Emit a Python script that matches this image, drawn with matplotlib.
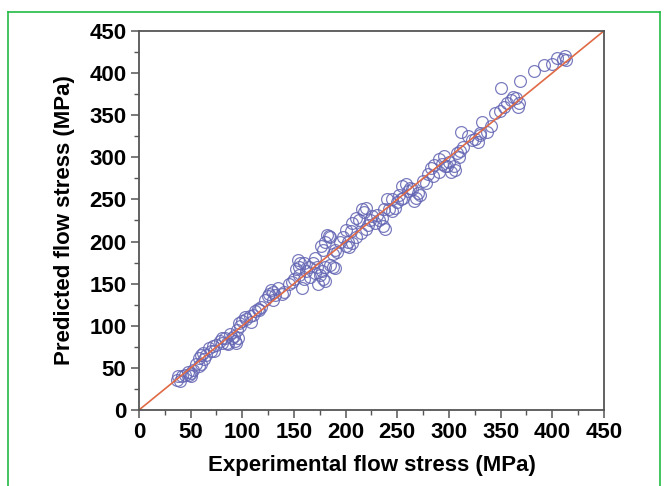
import numpy as np
import matplotlib
matplotlib.use("Agg")
import matplotlib.pyplot as plt
from matplotlib.lines import Line2D
from matplotlib.ticker import MultipleLocator

# experimental vs predicted flow stress (MPa)
exp_stress = [412, 410, 413, 405, 400, 392, 382, 369, 350, 365, 368, 360, 362, 356, 353, 367, 349, 345,
              341, 332, 330, 325, 328, 330, 322, 312, 311, 310, 305, 300, 308, 314, 306, 302, 298, 295,
              290, 286, 283, 280, 285, 290, 293, 275, 270, 268, 272, 266, 262, 258, 255, 260, 252, 248,
              245, 250, 256, 240, 237, 235, 232, 236, 238, 230, 226, 224, 220, 218, 216, 222, 215, 213,
              210, 206, 205, 202, 200, 203, 206, 197, 195, 190, 188, 185, 182, 184, 180, 178, 176, 180,
              177, 175, 180, 178, 173, 185, 188, 190, 172, 170, 168, 165, 170, 166, 160, 156, 155, 154,
              152, 155, 158, 160, 150, 145, 140, 138, 135, 130, 128, 126, 125, 130, 122, 118, 115, 112,
              110, 108, 107, 103, 100, 97, 98, 95, 96, 94, 93, 90, 88, 85, 86, 83, 80, 80, 78, 75, 73,
              70, 68, 65, 62, 60, 58, 60, 58, 55, 52, 50, 48, 47, 42, 38, 37, 40, 45, 50, 200, 210, 245,
              220, 264, 278, 318, 337, 132, 148, 162, 192, 228, 242, 254, 296, 63, 72, 92, 104, 116]
pred_stress = [420, 417, 415, 418, 411, 409, 403, 391, 382, 370, 365, 368, 372, 365, 360, 360, 355, 352,
               337, 342, 329, 322, 318, 326, 320, 330, 308, 300, 290, 294, 305, 312, 285, 282, 290, 302,
               298, 291, 287, 280, 278, 283, 292, 272, 258, 252, 255, 248, 263, 268, 266, 260, 255, 240,
               236, 247, 252, 250, 239, 228, 226, 218, 215, 232, 230, 225, 240, 235, 238, 220, 210, 225,
               228, 222, 212, 200, 195, 193, 198, 205, 200, 190, 185, 205, 208, 207, 200, 190, 195, 170,
               165, 160, 153, 155, 150, 172, 170, 168, 170, 180, 175, 170, 163, 158, 175, 175, 170, 178,
               167, 160, 145, 155, 155, 150, 140, 138, 145, 140, 143, 138, 135, 130, 130, 122, 120, 117,
               113, 105, 112, 110, 106, 103, 100, 95, 85, 80, 82, 85, 90, 80, 78, 85, 85, 80, 82, 77, 70,
               70, 73, 65, 68, 65, 62, 55, 52, 55, 48, 44, 42, 45, 40, 40, 36, 35, 42, 40, 214, 205, 250,
               215, 262, 270, 325, 330, 137, 152, 165, 187, 222, 238, 250, 290, 60, 76, 88, 108, 119]

x_ticks = [0, 50, 100, 150, 200, 250, 300, 350, 400, 450]
y_ticks = [0, 50, 100, 150, 200, 250, 300, 350, 400, 450]

font = ["Liberation Sans", "DejaVu Sans"]

fig = plt.figure(figsize=(6.67, 4.86), dpi=100)
ax = fig.add_axes([0.2084, 0.1564, 0.697, 0.780])

ax.plot(exp_stress, pred_stress, linestyle="none", marker="o", markersize=8.5,
        markerfacecolor="none", markeredgecolor="#6466b4", markeredgewidth=0.9, alpha=0.85)
ax.plot([0, 450], [0, 450], color="#e06a45", linewidth=1.2)

ax.set_xlim(0, 450)
ax.set_ylim(0, 450)
ax.set_xticks(x_ticks)
ax.set_yticks(y_ticks)
ax.xaxis.set_minor_locator(MultipleLocator(25))
ax.yaxis.set_minor_locator(MultipleLocator(25))
ax.tick_params(which="major", direction="out", length=6, width=1.1, color="#555555", pad=3)
ax.tick_params(which="minor", direction="out", length=3.5, width=1.0, color="#555555")
for sp in ax.spines.values():
    sp.set_color("#555555")
    sp.set_linewidth(1.3)

for lab in ax.get_xticklabels() + ax.get_yticklabels():
    lab.set_fontfamily(font)
    lab.set_fontweight("bold")
    lab.set_fontsize(16)

ax.set_xlabel("Experimental flow stress (MPa)", family=font, fontweight="bold", fontsize=16, labelpad=8)
ax.set_ylabel("Predicted flow stress (MPa)", family=font, fontweight="bold", fontsize=16, labelpad=10)

# green frame around the figure
frame_col = "#22bb44"
fig.add_artist(Line2D([8 / 667, 8 / 667], [0, 1 - 12 / 486], transform=fig.transFigure, color=frame_col, lw=1.2))
fig.add_artist(Line2D([8 / 667, 660 / 667], [1 - 12 / 486, 1 - 12 / 486], transform=fig.transFigure, color=frame_col, lw=1.2))
fig.add_artist(Line2D([660 / 667, 660 / 667], [0, 1 - 12 / 486], transform=fig.transFigure, color=frame_col, lw=1.2))

fig.savefig("out.png", dpi=100)
